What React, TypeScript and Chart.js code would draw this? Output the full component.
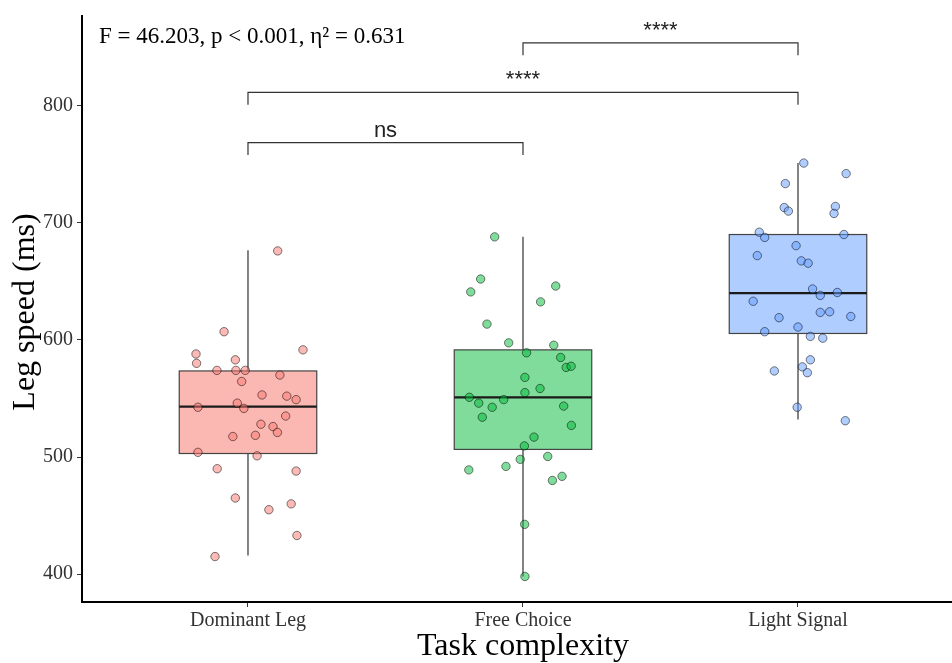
import React, { useEffect, useRef } from "react";
import { Chart, registerables } from "chart.js";

Chart.register(...registerables);

// ---------- data ----------
const categories = ["Dominant Leg", "Free Choice", "Light Signal"];
const yTicks = [400, 500, 600, 700, 800];

// box-plot statistics per category
const boxQ1 = [503, 506.5, 605.5];
const boxMedian = [543, 551, 640];
const boxQ3 = [573.5, 591.5, 690];
const whiskerLow = [416, 398, 532];
const whiskerHigh = [676.5, 688, 751];

// jittered observations: horizontal offset from the category and value
const dominantJitter = [0.108, -0.087, -0.189, -0.187, -0.046, 0.2, -0.113, -0.044, -0.01, 0.116, -0.023, 0.051, 0.141, 0.175, -0.182, -0.039, -0.015, 0.137, 0.047, 0.091, 0.107, -0.055, 0.027, -0.182, 0.033, -0.112, 0.175, -0.046, 0.076, 0.157, 0.178, -0.12];
const dominantValues = [676, 607, 588, 580, 583, 591.5, 574, 574, 574, 570, 564.5, 553, 552, 549, 542.5, 546, 541.5, 535, 528, 526, 521, 517.5, 518.5, 504, 501, 490, 488, 465, 455, 460, 433, 415];

const freeJitter = [-0.103, -0.154, -0.19, 0.119, 0.064, -0.131, -0.052, 0.112, 0.013, 0.137, 0.157, 0.175, 0.007, 0.062, 0.007, -0.195, -0.161, -0.07, -0.112, 0.148, -0.148, 0.176, 0.04, 0.005, -0.01, 0.09, -0.062, -0.197, 0.142, 0.107, 0.006, 0.007];
const freeValues = [688, 652, 641, 646, 632.5, 613.5, 597.5, 595.5, 589, 585, 576.5, 577.5, 568, 558.5, 555, 551, 546, 549, 542.5, 543.5, 534, 527, 517, 509.5, 498, 500.5, 492, 489, 483.5, 480, 442.5, 398];

const lightJitter = [0.021, 0.175, -0.046, -0.05, -0.035, 0.136, 0.131, -0.141, -0.121, 0.167, -0.007, -0.148, 0.012, 0.037, 0.053, 0.081, 0.143, -0.163, 0.081, 0.115, 0.192, -0.069, 0, -0.121, 0.045, 0.09, 0.045, 0.016, 0.034, -0.086, -0.003, 0.172];
const lightValues = [751, 742, 733.5, 713, 710, 714, 708, 692, 687.5, 690, 680.5, 672, 667.5, 665.5, 643.5, 638, 640.5, 633, 623.5, 624, 620, 619, 611, 607, 603, 601.5, 583, 577, 572, 573.5, 542.5, 531];

// significance brackets
const bracketFrom = [1, 1, 2];
const bracketTo = [2, 3, 3];
const bracketLevel = [768.5, 811.3, 853.6];
const bracketTip = 10.5;
const bracketLabels = ["ns", "****", "****"];

const statsText = "F = 46.203, p < 0.001, η² = 0.631";
const xTitle = "Task complexity";
const yTitle = "Leg speed (ms)";

// ---------- styles ----------
const fills = ["rgba(248,118,109,0.52)", "rgba(0,186,56,0.5)", "rgba(97,156,255,0.5)"];
const pointFills = ["rgba(248,118,109,0.5)", "rgba(0,186,56,0.5)", "rgba(97,156,255,0.5)"];
const SERIF = "'Liberation Serif', 'Times New Roman', serif";
const SANS = "'Liberation Sans', Arial, sans-serif";

function toPoints(jit: number[], vals: number[], cat: number) {
  return vals.map((v, i) => ({ x: cat + jit[i], y: v }));
}

const boxPlugin = {
  id: "boxes",
  beforeDatasetsDraw(chart: any) {
    const { ctx, scales } = chart;
    const xs = scales.x;
    const ys = scales.y;
    ctx.save();
    for (let i = 0; i < categories.length; i++) {
      const c = i + 1;
      const xl = xs.getPixelForValue(c - 0.25);
      const xr = xs.getPixelForValue(c + 0.25);
      const xc = xs.getPixelForValue(c);
      const yq1 = ys.getPixelForValue(boxQ1[i]);
      const yq3 = ys.getPixelForValue(boxQ3[i]);
      const ym = ys.getPixelForValue(boxMedian[i]);
      const ylo = ys.getPixelForValue(whiskerLow[i]);
      const yhi = ys.getPixelForValue(whiskerHigh[i]);
      ctx.strokeStyle = "#333333";
      ctx.lineWidth = 1.2;
      ctx.beginPath();
      ctx.moveTo(xc, yhi);
      ctx.lineTo(xc, yq3);
      ctx.moveTo(xc, yq1);
      ctx.lineTo(xc, ylo);
      ctx.stroke();
      ctx.fillStyle = fills[i];
      ctx.fillRect(xl, yq3, xr - xl, yq1 - yq3);
      ctx.strokeStyle = "#444444";
      ctx.lineWidth = 1.2;
      ctx.strokeRect(xl, yq3, xr - xl, yq1 - yq3);
      ctx.strokeStyle = "#1a1a1a";
      ctx.lineWidth = 2.2;
      ctx.beginPath();
      ctx.moveTo(xl, ym);
      ctx.lineTo(xr, ym);
      ctx.stroke();
    }
    ctx.restore();
  },
  afterDraw(chart: any) {
    const { ctx, scales, chartArea } = chart;
    const xs = scales.x;
    const ys = scales.y;
    ctx.save();
    // brackets
    ctx.strokeStyle = "#333333";
    ctx.lineWidth = 1.2;
    ctx.fillStyle = "#222222";
    ctx.font = `22px ${SANS}`;
    ctx.textAlign = "center";
    ctx.textBaseline = "alphabetic";
    for (let i = 0; i < bracketFrom.length; i++) {
      const x1 = xs.getPixelForValue(bracketFrom[i]);
      const x2 = xs.getPixelForValue(bracketTo[i]);
      const y = ys.getPixelForValue(bracketLevel[i]);
      const yt = ys.getPixelForValue(bracketLevel[i] - bracketTip);
      ctx.beginPath();
      ctx.moveTo(x1, yt);
      ctx.lineTo(x1, y);
      ctx.lineTo(x2, y);
      ctx.lineTo(x2, yt);
      ctx.stroke();
      ctx.fillText(bracketLabels[i], (x1 + x2) / 2, y - 6);
    }
    // stats annotation
    ctx.fillStyle = "#000000";
    ctx.font = `23px ${SERIF}`;
    ctx.textAlign = "left";
    ctx.fillText(statsText, 99, 43);
    // axis titles
    ctx.font = `32px ${SERIF}`;
    ctx.textAlign = "center";
    ctx.fillText(xTitle, 523, 655);
    ctx.save();
    ctx.translate(34, (chartArea.top + chartArea.bottom) / 2 + 3);
    ctx.rotate(-Math.PI / 2);
    ctx.fillText(yTitle, 0, 0);
    ctx.restore();
    ctx.restore();
  },
};

export default function App() {
  const ref = useRef<HTMLCanvasElement | null>(null);
  useEffect(() => {
    if (!ref.current) return;
    const chart = new Chart(ref.current, {
      type: "scatter",
      data: {
        datasets: [
          { data: toPoints(dominantJitter, dominantValues, 1), backgroundColor: pointFills[0] },
          { data: toPoints(freeJitter, freeValues, 2), backgroundColor: pointFills[1] },
          { data: toPoints(lightJitter, lightValues, 3), backgroundColor: pointFills[2] },
        ].map((d) => ({
          ...d,
          borderColor: "rgba(0,0,0,0.5)",
          borderWidth: 1,
          pointRadius: 4.2,
          pointHoverRadius: 4.2,
        })),
      },
      options: {
        animation: false,
        responsive: false,
        devicePixelRatio: 1,
        layout: { autoPadding: false, padding: { top: 14, left: 0, right: 0, bottom: 0 } },
        plugins: { legend: { display: false }, tooltip: { enabled: false } },
        events: [],
        scales: {
          x: {
            type: "linear",
            min: 0.3964,
            max: 3.56,
            afterBuildTicks: (s: any) => {
              s.ticks = categories.map((_, i) => ({ value: i + 1 }));
            },
            afterFit: (s: any) => {
              s.height = 61;
            },
            ticks: {
              callback: (v: any) => categories[Math.round(v) - 1] ?? "",
              font: { family: SERIF, size: 20 },
              color: "#333333",
              padding: 2,
              maxRotation: 0,
              autoSkip: false,
            },
            grid: { display: true, drawOnChartArea: false, drawTicks: true, tickLength: 5, tickColor: "#333333" },
            border: { display: true, color: "#000000", width: 2 },
          },
          y: {
            type: "linear",
            min: 376.2,
            max: 876.6,
            afterBuildTicks: (s: any) => {
              s.ticks = yTicks.map((v) => ({ value: v }));
            },
            afterFit: (s: any) => {
              s.width = 82;
            },
            ticks: {
              font: { family: SERIF, size: 20 },
              color: "#333333",
              padding: 4,
            },
            grid: { display: true, drawOnChartArea: false, drawTicks: true, tickLength: 5, tickColor: "#333333" },
            border: { display: true, color: "#000000", width: 2 },
          },
        },
      },
      plugins: [boxPlugin],
    });
    return () => chart.destroy();
  }, []);
  return (
    <div style={{ position: "absolute", left: 0, top: 0, width: 952, height: 663, background: "#fff" }}>
      <canvas ref={ref} width={952} height={663} style={{ display: "block" }} />
    </div>
  );
}
